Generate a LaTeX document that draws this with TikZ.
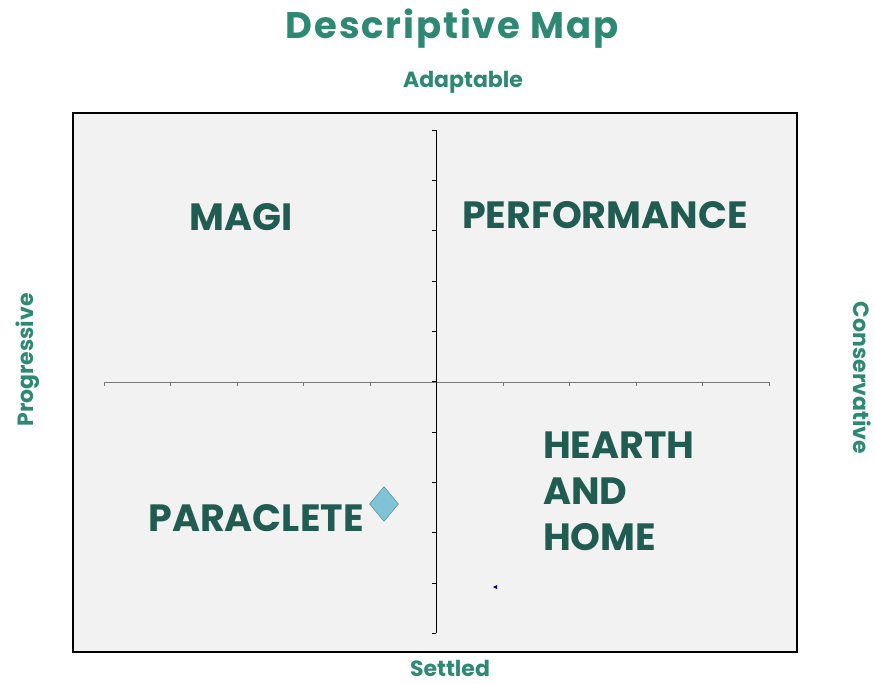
\documentclass[tikz,border=0pt]{standalone}
\usepackage{fontspec}
\setmainfont{Poppins}
\usetikzlibrary{shapes.geometric}
\definecolor{mapteal}{RGB}{46,137,116}
\definecolor{quadteal}{RGB}{33,92,82}
\definecolor{mapgrey}{RGB}{242,242,242}
\definecolor{axisgrey}{RGB}{120,120,120}
\definecolor{gemblue}{RGB}{128,195,214}
\definecolor{gemedge}{RGB}{70,130,155}
\tikzset{
  axislabel/.style={text=mapteal, inner sep=0, font=\bfseries\fontsize{22}{26}\selectfont},
  quadlabel/.style={text=quadteal, inner sep=0, align=left, font=\bfseries\fontsize{38}{46}\selectfont},
}
\begin{document}
\begin{tikzpicture}[x=1pt, y=-1pt]
\useasboundingbox (0,0) rectangle (875,683);
\draw [line width=1.5pt, fill=mapgrey] (73,113) rectangle (797,652);
% axes and ticks
\draw [axisgrey] (104,382) -- (769,382);
\foreach \i in {0,...,10}
  \draw [axisgrey] ({104+66.5*\i},382) -- ++(0,4);
\draw (436,130) -- (436,633);
\foreach \i in {0,...,10}
  \draw ({436},{130+50.3*\i}) -- ++(-4,0);
% titles
\node [text=mapteal, inner sep=0, anchor=base, font=\bfseries\fontsize{37}{40}\selectfont\addfontfeature{LetterSpace=5}] (title) at (452,38) {Descriptive Map};
\node [axislabel, anchor=base] (adaptable) at (463,87) {Adaptable};
\node [axislabel, anchor=base] (settled) at (450,676) {Settled};
\node [axislabel, anchor=base, rotate=90] (progressive) at (33,360) {Progressive};
\node [axislabel, anchor=base, rotate=-90] (conservative) at (853,378) {Conservative};
% quadrants
\node [quadlabel] (magi) at (241,217) {MAGI};
\node [quadlabel] (performance) at (605,215) {PERFORMANCE};
\node [quadlabel, anchor=west] (hearth) at (543,491) {HEARTH\\AND\\HOME};
\node [quadlabel] (paraclete) at (256,518) {PARACLETE};
% points
\node [diamond, draw=gemedge, fill=gemblue, inner sep=0, minimum width=29pt, minimum height=35pt] (gem) at (384,504) {};
\fill [blue!45!black] (493,587) -- (497,585) -- (497,589) -- cycle;
\end{tikzpicture}
\end{document}
